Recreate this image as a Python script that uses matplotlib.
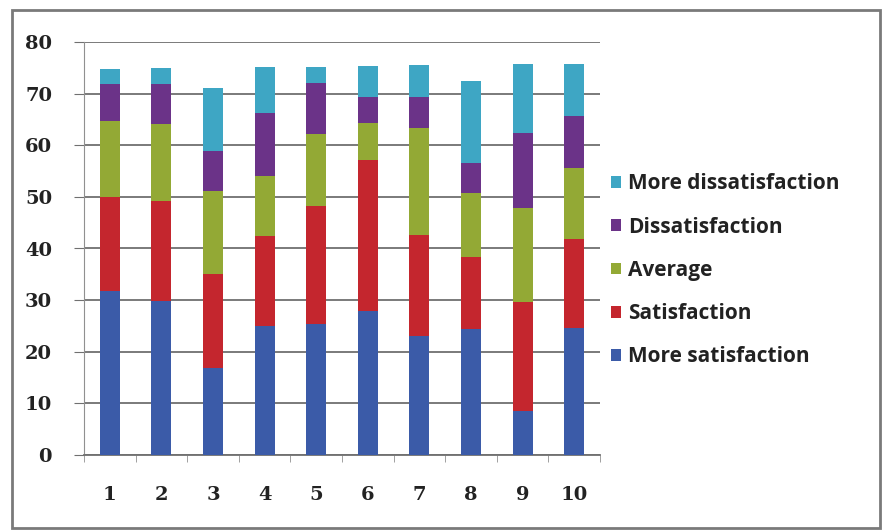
import numpy as np
import matplotlib.pyplot as plt
from matplotlib.patches import Rectangle

# respondents groups 1..10, stacked rating counts
groups = ['1', '2', '3', '4', '5', '6', '7', '8', '9', '10']
more_sat = [31.8, 29.8, 16.9, 25.0, 25.4, 27.9, 23.1, 24.4, 8.5, 24.6]
sat = [18.2, 19.4, 18.2, 17.4, 22.9, 29.3, 19.5, 14.0, 21.1, 17.2]
average = [14.7, 14.9, 16.1, 11.7, 13.9, 7.1, 20.8, 12.3, 18.2, 13.8]
dissat = [7.2, 7.8, 7.7, 12.2, 9.9, 5.1, 6.0, 5.9, 14.6, 10.1]
more_dissat = [2.9, 3.1, 12.2, 8.9, 3.1, 6.0, 6.2, 15.9, 13.3, 10.0]

labels = ['More satisfaction', 'Satisfaction', 'Average', 'Dissatisfaction', 'More dissatisfaction']
colors = ['#3b5ba8', '#c4262e', '#93a935', '#6b3388', '#3ea6c4']
series = [more_sat, sat, average, dissat, more_dissat]

fig = plt.figure(figsize=(8.82, 5.30), dpi=100)
fig.patches.append(Rectangle((12/882, 2/530), 868/882, 518/530, transform=fig.transFigure,
                             fill=False, edgecolor='#7a7a7a', linewidth=2))
ax = fig.add_axes([84/882, 1-455/530, 516/882, 413/530])

x = np.arange(1, len(groups) + 1)
bottom = np.zeros(len(groups))
bars = []
for vals, c, lab in zip(series, colors, labels):
    b = ax.bar(x, vals, width=0.39, bottom=bottom, color=c, label=lab, zorder=3)
    bars.append(b)
    bottom += np.array(vals)

ax.set_xlim(0.5, 10.5)
ax.set_ylim(0, 80)
ax.set_yticks(range(0, 81, 10))
ax.set_xticks(x)
ax.set_xticklabels(groups)
ax.set_xticks(np.arange(0.5, 11, 1), minor=True)
ax.grid(axis='y', color='#707070', linewidth=1.3, zorder=0)
for s in ['top', 'right']:
    ax.spines[s].set_visible(False)
ax.spines['left'].set_color('#909090')
ax.spines['bottom'].set_color('#707070')
ax.spines['bottom'].set_linewidth(1.3)
ax.tick_params(axis='y', length=7, color='#707070', pad=16)
ax.tick_params(axis='x', which='major', length=0, pad=22)
ax.tick_params(axis='x', which='minor', length=5, color='#909090')
for t in ax.get_xticklabels() + ax.get_yticklabels():
    t.set_fontfamily('DejaVu Serif')
    t.set_fontweight('bold')
    t.set_fontsize(14)
    t.set_color('#222222')

leg = ax.legend(bars[::-1], labels[::-1], loc='center left', bbox_to_anchor=(0.985, 0.447),
                frameon=False, handlelength=0.5, handleheight=0.5, handletextpad=0.3,
                labelspacing=1.07, prop={'family': 'Open Sans', 'weight': 'bold', 'size': 15})
for t in leg.get_texts():
    t.set_color('#222222')

fig.savefig('out.png', dpi=100)
